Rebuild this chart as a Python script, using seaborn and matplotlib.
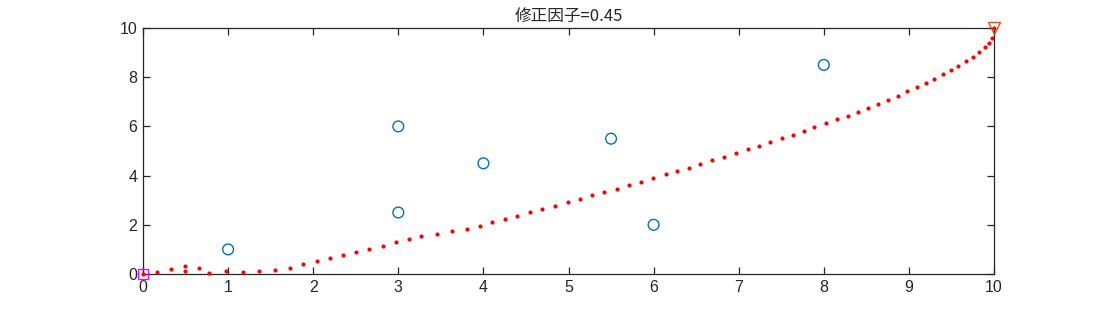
import matplotlib
matplotlib.use("Agg")
import matplotlib.pyplot as plt
import seaborn as sns
import pandas as pd

# Data
circle_x = [1, 3, 3, 4, 5.5, 6, 8]
circle_y = [1, 2.5, 6, 4.5, 5.5, 2, 8.5]

curve_x = [0, 0.16, 0.33, 0.49, 0.49, 0.66, 0.78, 0.97, 1.17, 1.36, 1.55, 1.73, 1.88,
           2.04, 2.20, 2.35, 2.50, 2.66, 2.82, 2.97, 3.12, 3.27, 3.45, 3.63, 3.81, 3.96,
           4.10, 4.25, 4.40, 4.55, 4.69, 4.84, 4.99, 5.13, 5.28, 5.42, 5.57, 5.71, 5.85,
           5.99, 6.14, 6.28, 6.42, 6.55, 6.69, 6.83, 6.97, 7.11, 7.24, 7.37, 7.51, 7.64,
           7.77, 7.89, 8.02, 8.15, 8.28, 8.40, 8.52, 8.64, 8.75, 8.87, 8.98, 9.09, 9.20,
           9.30, 9.40, 9.49, 9.58, 9.67, 9.75, 9.82, 9.89, 9.94, 9.98, 10.0]
curve_y = [0, 0.09, 0.20, 0.34, 0.12, 0.23, 0.06, 0.12, 0.08, 0.12, 0.18, 0.26, 0.39,
           0.52, 0.64, 0.77, 0.90, 1.03, 1.15, 1.29, 1.42, 1.54, 1.64, 1.74, 1.83, 1.96,
           2.10, 2.24, 2.37, 2.51, 2.64, 2.78, 2.91, 3.05, 3.20, 3.33, 3.47, 3.62, 3.75,
           3.90, 4.05, 4.19, 4.32, 4.47, 4.62, 4.77, 4.92, 5.07, 5.20, 5.37, 5.52, 5.66,
           5.83, 5.98, 6.12, 6.29, 6.44, 6.60, 6.76, 6.92, 7.09, 7.25, 7.43, 7.59, 7.76,
           7.94, 8.12, 8.29, 8.47, 8.65, 8.83, 9.02, 9.22, 9.40, 9.61, 10.0]

start_point = (0, 0)
end_point = (10, 10)
title_text = "修正因子=0.45"
x_ticks = list(range(0, 11))
y_ticks = list(range(0, 11, 2))

sns.set_theme(style="white")
plt.rcParams['font.family'] = ['Liberation Sans', 'DejaVu Sans']

fig = plt.figure(figsize=(10.99, 3.09), dpi=100)
ax = fig.add_axes([143 / 1099, 1 - 274 / 309, (994 - 143) / 1099, (274 - 28) / 309])

circles = pd.DataFrame({"x": circle_x, "y": circle_y})
curve = pd.DataFrame({"x": curve_x, "y": curve_y})

sns.scatterplot(data=curve, x="x", y="y", ax=ax, color="#FF0000", s=9,
                linewidth=0, marker="o", clip_on=False, zorder=3)
sns.scatterplot(data=circles, x="x", y="y", ax=ax, marker="o", s=60,
                facecolor="none", edgecolor="#0072BD", linewidth=1.0, clip_on=False, zorder=4)
ax.plot([start_point[0]], [start_point[1]], marker="s", ms=7, mfc="none",
        mec="#FF00FF", mew=1.0, linestyle="none", clip_on=False, zorder=5)
ax.plot([end_point[0]], [end_point[1]], marker="v", ms=8, mfc="none",
        mec="#D95319", mew=1.0, linestyle="none", clip_on=False, zorder=5)

ax.set_xlim(0, 10)
ax.set_ylim(0, 10)
ax.set_xticks(x_ticks)
ax.set_yticks(y_ticks)
ax.set_xlabel("")
ax.set_ylabel("")
for s in ax.spines.values():
    s.set_visible(True)
    s.set_color("#262626")
    s.set_linewidth(0.9)
ax.tick_params(axis="both", direction="in", length=5, width=0.9, color="#262626",
               labelsize=11.5, labelcolor="#262626", top=True, right=True,
               bottom=True, left=True, pad=4)
ax.set_title(title_text, fontsize=12, color="#262626", pad=5,
             family=['Noto Sans CJK SC', 'DejaVu Sans'])

fig.savefig("out.png", dpi=100, facecolor="white")
